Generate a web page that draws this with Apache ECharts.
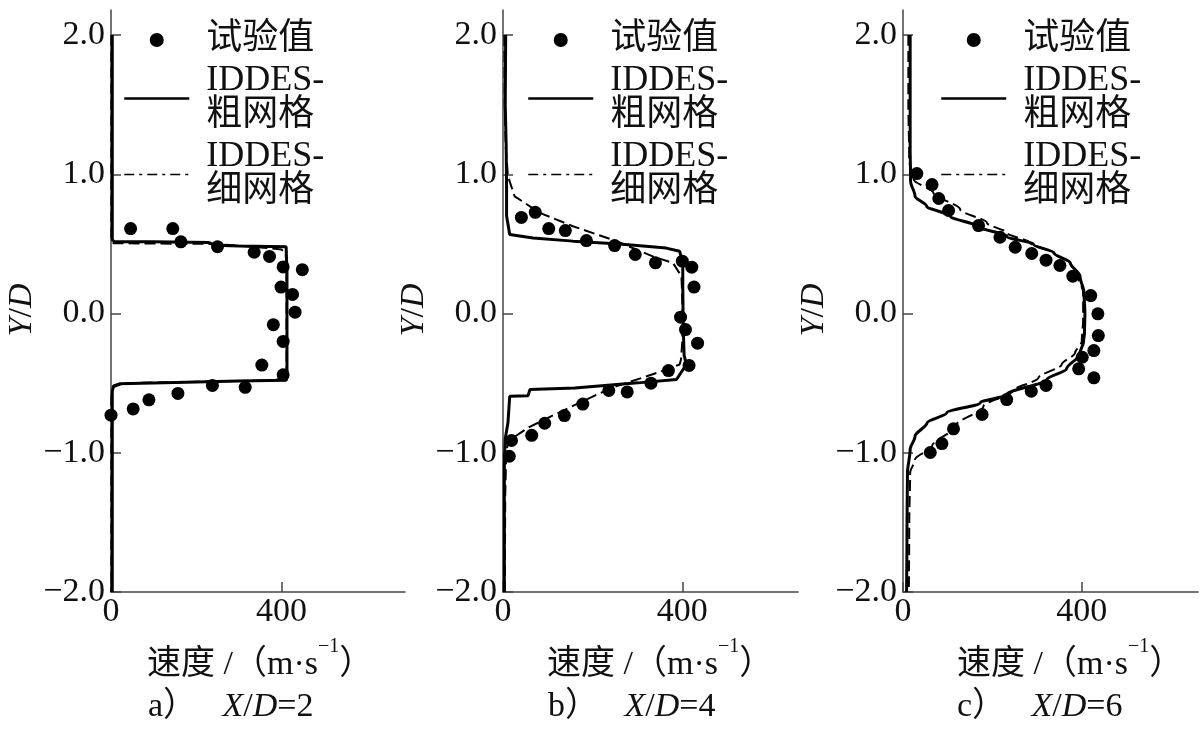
<!DOCTYPE html>
<html>
<head>
<meta charset="utf-8">
<script src="https://cdn.jsdelivr.net/npm/echarts@6/dist/echarts.min.js"></script>
<style>html,body{margin:0;padding:0;background:#fff}#c{width:1200px;height:736px}</style>
</head>
<body>
<div id="c"></div>
<script>
// ---------- data ----------
const seriesNames = ['试验值', 'IDDES-粗网格', 'IDDES-细网格'];
const yTickValues = [-2, -1, 0, 1, 2];
const xTickValues = [0, 400];
const panelLabels = ['a）', 'b）', 'c）'];
const panelXD = ['2', '4', '6'];

// X/D = 2
const expA = [[46,0.61],[145,0.61],[164,0.515],[250,0.48],[336,0.44],[372,0.41],[404,0.335],[449,0.315],[399,0.19],[426,0.137],[432,0.01],[381,-0.08],[404,-0.2],[354,-0.37],[404,-0.44],[315,-0.53],[238,-0.516],[157,-0.574],[89,-0.62],[52,-0.685],[0,-0.73]];
const coarseA = [[3,2.0],[3,0.53],[8,0.515],[100,0.515],[230,0.51],[245,0.49],[300,0.485],[411,0.48],[413,0.3],[413,-0.46],[411,-0.48],[300,-0.485],[150,-0.495],[20,-0.505],[6,-0.52],[3,-0.56],[3,-2.0]];
const fineA = [[1,2.0],[1,0.52],[6,0.505],[230,0.5],[290,0.49],[350,0.475],[400,0.46],[410,0.43],[412,0.3],[412,-0.4],[408,-0.46],[380,-0.48],[200,-0.49],[30,-0.5],[5,-0.53],[1,-0.6],[1,-2.0]];

// X/D = 4
const expB = [[41,0.69],[72,0.727],[102,0.61],[139,0.596],[186,0.524],[249,0.488],[295,0.424],[340,0.364],[400,0.376],[421,0.333],[426,0.19],[396,-0.026],[407,-0.115],[434,-0.213],[415,-0.373],[369,-0.41],[330,-0.5],[277,-0.563],[236,-0.553],[178,-0.65],[137,-0.733],[93,-0.788],[64,-0.875],[19,-0.912],[14,-1.025]];
const coarseB = [[6,2.0],[5,1.5],[7,1.22],[8,0.9],[8,0.70],[15,0.567],[67,0.543],[156,0.52],[260,0.5],[364,0.47],[394,0.447],[401,0.364],[401,0.2],[402,-0.1],[404,-0.3],[409,-0.366],[387,-0.474],[301,-0.498],[160,-0.534],[60,-0.546],[56,-0.59],[15,-0.594],[11,-0.785],[5,-0.9],[3,-1.1],[3,-2.0]];
const fineB = [[3,2.0],[4,1.5],[6,1.2],[11,0.986],[26,0.842],[82,0.723],[156,0.627],[253,0.52],[334,0.41],[379,0.364],[398,0.268],[400,0.1],[400,-0.2],[397,-0.33],[394,-0.366],[367,-0.40],[312,-0.46],[242,-0.534],[178,-0.63],[108,-0.737],[56,-0.82],[11,-0.917],[7,-1.025],[5,-1.3],[4,-2.0]];

// X/D = 6
const expC = [[31,1.005],[65,0.926],[80,0.826],[102,0.74],[169,0.632],[217,0.548],[251,0.476],[288,0.431],[320,0.383],[351,0.345],[380,0.268],[420,0.129],[436,-0.002],[437,-0.158],[427,-0.266],[401,-0.314],[393,-0.397],[427,-0.462],[320,-0.516],[287,-0.558],[232,-0.618],[177,-0.725],[113,-0.828],[87,-0.934],[61,-0.998]];
const coarseC = [[16,2.0],[16,1.2],[17,0.95],[27,0.842],[53,0.77],[106,0.699],[165,0.627],[232,0.555],[292,0.496],[337,0.436],[374,0.364],[396,0.268],[405,0.149],[407,0.005],[406,-0.139],[404,-0.2],[395,-0.294],[366,-0.397],[322,-0.474],[232,-0.582],[173,-0.641],[98,-0.713],[54,-0.785],[27,-0.881],[16,-0.977],[10,-1.144],[9,-1.5],[8,-2.0]];
const fineC = [[12,2.0],[12,1.5],[14,1.1],[24,0.962],[68,0.867],[128,0.747],[188,0.651],[232,0.58],[284,0.508],[340,0.43],[375,0.36],[389,0.292],[403,0.149],[403,-0.043],[400,-0.199],[385,-0.282],[355,-0.366],[303,-0.462],[244,-0.558],[180,-0.666],[117,-0.809],[65,-0.953],[27,-1.048],[16,-1.144],[14,-1.5],[13,-2.0]];

const panels = [
  {exp: expA, coarse: coarseA, fine: fineA, smooth: false},
  {exp: expB, coarse: coarseB, fine: fineB, smooth: false},
  {exp: expC, coarse: coarseC, fine: fineC, smooth: 0.3}
];

// ---------- layout / style ----------
const FONT = "'Liberation Serif', 'Noto Sans CJK SC', serif";
const TXT = '#111';
const AXC = '#444';
const grids = [
  {left: 111, top: 10, width: 294, height: 582},
  {left: 503, top: 10, width: 295, height: 582},
  {left: 903, top: 10, width: 295, height: 582}
];
const xMaxes = [690, 658, 660];
const legendLefts = [123, 527, 940];
const xNameLefts = [147, 547, 957];
const captionLefts = [148, 548, 957];
const hiddenSymbol = {color: 'rgba(0,0,0,0)', borderWidth: 0, opacity: 0};

const option = {
  animation: false,
  backgroundColor: '#fff',
  grid: grids.map(g => Object.assign({containLabel: false}, g)),
  xAxis: grids.map((g, i) => ({
    gridIndex: i, type: 'value', min: 0, max: xMaxes[i], interval: 400,
    axisLine: {show: true, onZero: false, lineStyle: {color: AXC, width: 1.5}},
    axisTick: {show: true, inside: true, length: 10, customValues: xTickValues, lineStyle: {color: AXC, width: 1.5}},
    axisLabel: {customValues: xTickValues, fontFamily: FONT, fontSize: 34, color: TXT, margin: 3},
    splitLine: {show: false}
  })),
  yAxis: grids.map((g, i) => ({
    gridIndex: i, type: 'value', min: -2, max: 2.18, interval: 1,
    name: '{i|Y}/{i|D}', nameLocation: 'middle', nameGap: 68,
    nameTextStyle: {fontFamily: FONT, fontSize: 34, color: TXT, padding: [0, 18, 0, 0],
      rich: {i: {fontStyle: 'italic', fontFamily: FONT, fontSize: 34, color: TXT}}},
    axisLine: {show: true, onZero: false, lineStyle: {color: AXC, width: 1.5}},
    axisTick: {show: true, inside: true, length: 10, customValues: yTickValues, lineStyle: {color: AXC, width: 1.5}},
    axisLabel: {customValues: yTickValues, fontFamily: FONT, fontSize: 34, color: TXT, margin: 6,
      formatter: v => v.toFixed(1).replace('-', '−')},
    splitLine: {show: false}
  })),
  legend: legendLefts.map(l => ({
    orient: 'vertical', left: l, top: 22, padding: 0, itemGap: 5,
    itemWidth: 65, itemHeight: 14, selectedMode: false,
    data: [
      {name: seriesNames[0], icon: 'circle', itemStyle: {color: '#000', opacity: 1}},
      {name: seriesNames[1], itemStyle: hiddenSymbol, lineStyle: {width: 2.5, color: '#000'}},
      {name: seriesNames[2], itemStyle: hiddenSymbol, lineStyle: {type: [10, 5, 3, 5], width: 1.5, color: '#000'}}
    ],
    formatter: n => n.replace('-', '-\n'),
    textStyle: {fontFamily: FONT, fontSize: 36, lineHeight: 35, color: TXT, padding: [0, 0, 0, 12]}
  })),
  graphic: [],
  series: []
};

panels.forEach((p, i) => {
  option.series.push({
    name: seriesNames[2], type: 'line', xAxisIndex: i, yAxisIndex: i, data: p.fine,
    showSymbol: false, symbol: 'none', smooth: p.smooth, smoothMonotone: 'y',
    lineStyle: {color: '#000', width: 2, type: [11, 5]}, itemStyle: {color: '#000'}
  });
  option.series.push({
    name: seriesNames[1], type: 'line', xAxisIndex: i, yAxisIndex: i, data: p.coarse,
    showSymbol: false, symbol: 'none', smooth: p.smooth, smoothMonotone: 'y',
    lineStyle: {color: '#000', width: 3}, itemStyle: {color: '#000'}
  });
  option.series.push({
    name: seriesNames[0], type: 'scatter', xAxisIndex: i, yAxisIndex: i, data: p.exp,
    symbol: 'circle', symbolSize: 13, itemStyle: {color: '#000', opacity: 1}, z: 5
  });
  option.graphic.push({
    type: 'text', left: xNameLefts[i], top: 637,
    style: {text: '速度 /（m·s{sup|−1}）', fontFamily: FONT, fontSize: 34, lineHeight: 56, fill: TXT,
      rich: {sup: {fontFamily: FONT, fontSize: 20, lineHeight: 22, fill: TXT, verticalAlign: 'top'}}}
  });
  option.graphic.push({
    type: 'text', left: captionLefts[i], top: 690,
    style: {text: panelLabels[i] + '   {i|X}/{i|D}=' + panelXD[i], fontFamily: FONT, fontSize: 34, fill: TXT,
      rich: {i: {fontStyle: 'italic', fontFamily: FONT, fontSize: 34, fill: TXT}}}
  });
});

const chart = echarts.init(document.getElementById('c'), null, {renderer: 'canvas'});
chart.setOption(option);
</script>
</body>
</html>
